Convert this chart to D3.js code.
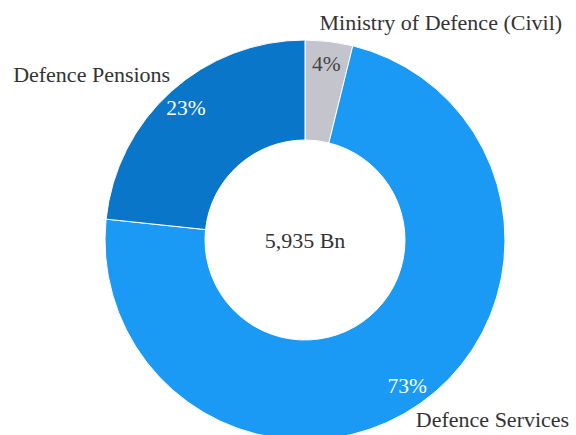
<!DOCTYPE html>
<html>
<head>
<meta charset="utf-8">
<script src="https://cdn.jsdelivr.net/npm/d3@7"></script>
<style>
  body { margin: 0; background: #fff; }
</style>
</head>
<body>
<div id="chart"></div>
<script>
// Budget split (Bn)
var categories = ["Ministry of Defence (Civil)", "Defence Services", "Defence Pensions"];
var values = [228, 4322, 1385];
var colours = ["#c4c4cc", "#1b9af5", "#0a76ca"];
var pctColours = ["#444", "#fff", "#fff"];
var totalLabel = "5,935 Bn";

var width = 576, height = 435;
var cx = 305, cy = 240;
var outerR = 200, innerR = 100;
var font = "'Times New Roman', Tinos, 'Liberation Serif', serif";

var svg = d3.select('#chart').append('svg')
  .attr('width', width)
  .attr('height', height)
  .style('font-family', font);

var g = svg.append('g').attr('transform', 'translate(' + cx + ',' + cy + ')');

var pie = d3.pie().sort(null).value(function (d) { return d; });
var arcs = pie(values);
var total = d3.sum(values);

var arc = d3.arc().innerRadius(innerR).outerRadius(outerR);
// percentages sit towards the outer edge
var pctArc = d3.arc().innerRadius(178).outerRadius(178);
var nameArc = d3.arc().innerRadius(212).outerRadius(212);

g.selectAll('path.slice')
  .data(arcs)
  .enter().append('path')
  .attr('class', 'slice')
  .attr('d', arc)
  .attr('fill', function (d, i) { return colours[i]; })
  .attr('stroke', '#fff')
  .attr('stroke-width', 1);

g.selectAll('text.pct')
  .data(arcs)
  .enter().append('text')
  .attr('class', 'pct')
  .attr('transform', function (d) { return 'translate(' + pctArc.centroid(d) + ')'; })
  .attr('text-anchor', 'middle')
  .attr('dy', '0.35em')
  .style('font-size', '21.5px')
  .attr('fill', function (d, i) { return pctColours[i]; })
  .text(function (d) { return Math.round(d.value / total * 100) + '%'; });

g.selectAll('text.name')
  .data(arcs)
  .enter().append('text')
  .attr('class', 'name')
  .each(function (d, i) {
    var mid = (d.startAngle + d.endAngle) / 2;
    var p = nameArc.centroid(d);
    var right = mid < Math.PI;
    var lower = Math.cos(mid) < 0;
    d3.select(this)
      .attr('x', p[0] + (right ? -11 : 7))
      .attr('y', p[1] + (lower ? 14 : 0))
      .attr('text-anchor', right ? 'start' : 'end');
  })
  .style('font-size', '22px')
  .attr('fill', '#333')
  .text(function (d, i) { return categories[i]; });

g.append('text')
  .attr('text-anchor', 'middle')
  .attr('dy', '0.35em')
  .style('font-size', '22px')
  .attr('fill', '#333')
  .text(totalLabel);
</script>
</body>
</html>
